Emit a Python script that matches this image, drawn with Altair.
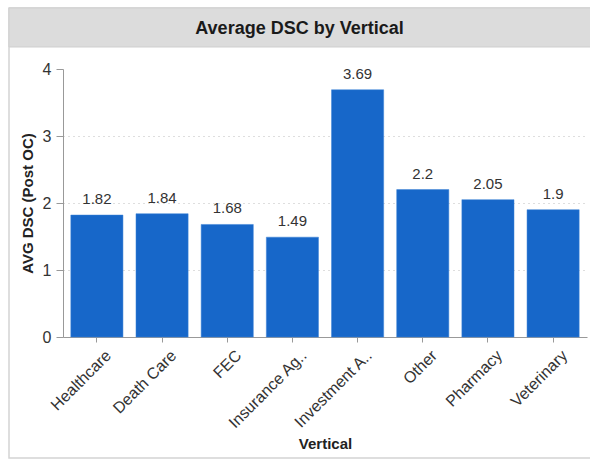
import altair as alt
import pandas as pd

categories = ["Healthcare", "Death Care", "FEC", "Insurance Ag..", "Investment A..", "Other", "Pharmacy", "Veterinary"]
values = [1.82, 1.84, 1.68, 1.49, 3.69, 2.2, 2.05, 1.9]
value_labels = ["1.82", "1.84", "1.68", "1.49", "3.69", "2.2", "2.05", "1.9"]
y_ticks = [0, 0.5, 1, 1.5, 2, 2.5, 3, 3.5, 4]

df = pd.DataFrame({"Vertical": categories, "AVG": values, "label": value_labels})

FONT = "Liberation Sans"
W, H = 524, 268

x_enc = alt.X("Vertical:N", sort=categories, title="Vertical",
              scale=alt.Scale(paddingInner=0.2, paddingOuter=0.12),
              axis=alt.Axis(labelAngle=-45, labelAlign="right", labelBaseline="top",
                            labelFontSize=16, labelColor="#333333", labelFont=FONT,
                            labelOffset=6, labelPadding=5,
                            titleFontSize=15, titleFont=FONT, titleColor="#222222",
                            titleFontWeight="bold", titlePadding=5,
                            domainColor="#999999", tickColor="#999999", tickSize=5,
                            grid=False))

y_enc = alt.Y("AVG:Q", title="AVG DSC (Post OC)",
              scale=alt.Scale(domain=[0, 4], nice=False),
              axis=alt.Axis(values=y_ticks,
                            labelExpr="datum.value % 1 == 0 ? format(datum.value, 'd') : ''",
                            labelFontSize=16, labelColor="#333333", labelFont=FONT,
                            labelPadding=5,
                            titleFontSize=15, titleFont=FONT, titleColor="#222222",
                            titleFontWeight="bold", titlePadding=7,
                            domainColor="#999999", tickColor="#999999", tickSize=7,
                            grid=True, gridColor="#bdbdbd", gridDash=[1, 4],
                            gridWidth=1,
                            gridOpacity=alt.condition("datum.value >= 4 || datum.value <= 0",
                                                      alt.value(0), alt.value(1))))

base = alt.Chart(df)

bars = base.mark_bar(color="#1767c9", stroke="#3a80d6", strokeWidth=0.5).encode(
    x=x_enc, y=y_enc)

labels = base.mark_text(baseline="bottom", dy=-8, fontSize=15, font=FONT, color="#333333").encode(
    x=alt.X("Vertical:N", sort=categories),
    y=alt.Y("AVG:Q"),
    text="label:N")

deco = alt.Data(values=[{"t": "Average DSC by Vertical"}])

band = alt.Chart(deco).mark_rect(color="#dcdcdc", stroke="#cfcfcf", strokeWidth=1).encode(
    x=alt.value(-54), x2=alt.value(540), y=alt.value(-61), y2=alt.value(-22))

card = alt.Chart(deco).mark_rect(fill="transparent", stroke="#d4d4d4", strokeWidth=1.5).encode(
    x=alt.value(-54), x2=alt.value(540), y=alt.value(-61), y2=alt.value(389))

title = alt.Chart(deco).mark_text(fontSize=18, fontWeight="bold", font=FONT, color="#1a1a1a",
                                  baseline="middle", align="center").encode(
    x=alt.value(236.5), y=alt.value(-40), text="t:N")

chart = alt.layer(card, band, title, bars, labels).properties(
    width=W, height=H,
    autosize=alt.AutoSizeParams(type="none"),
    padding={"left": 63, "top": 69, "right": 3, "bottom": 122},
    background="white",
).configure_view(stroke=None)

chart.save("out.html", embed_options={"renderer": "svg", "actions": False})
